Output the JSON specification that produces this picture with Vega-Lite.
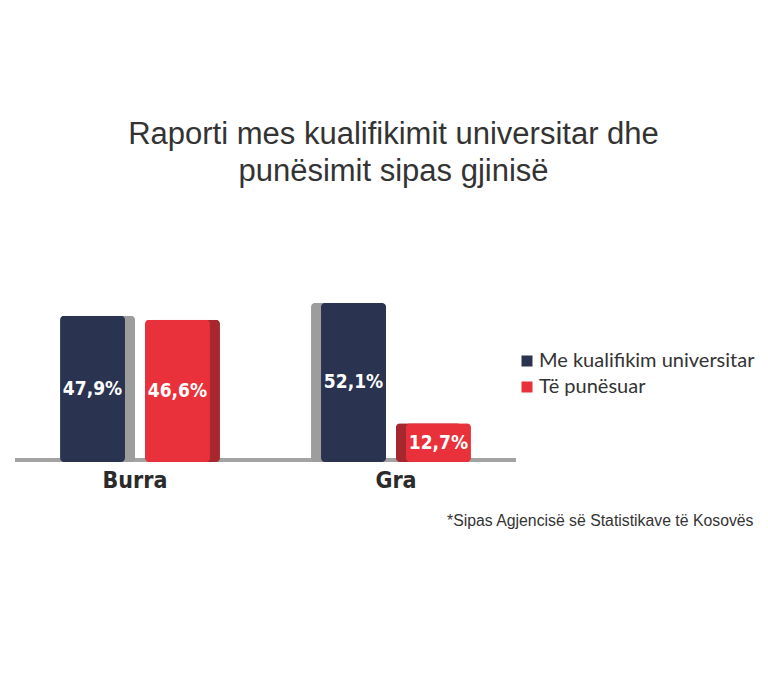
{
  "$schema": "https://vega.github.io/schema/vega-lite/v6.json",
  "autosize": {"type": "none"},
  "padding": {"left": 15, "top": 230, "right": 252, "bottom": 221},
  "width": 501,
  "height": 232,
  "background": "white",
  "config": {"view": {"stroke": null}, "axis": {"grid": false}},
  "title": {
    "text": ["Raporti mes kualifikimit universitar dhe", "punësimit sipas gjinisë"],
    "font": "Liberation Sans",
    "fontSize": 31,
    "fontWeight": "normal",
    "color": "#333333",
    "lineHeight": 37,
    "anchor": "middle",
    "frame": "group",
    "dx": 128,
    "offset": 42
  },
  "data": {
    "values": [
      {"gender": "Burra", "series": "Me kualifikim universitar", "value": 47.9, "label": "47,9%"},
      {"gender": "Burra", "series": "Të punësuar", "value": 46.6, "label": "46,6%"},
      {"gender": "Gra", "series": "Me kualifikim universitar", "value": 52.1, "label": "52,1%"},
      {"gender": "Gra", "series": "Të punësuar", "value": 12.7, "label": "12,7%"}
    ]
  },
  "layer": [
    {
      "mark": {"type": "rule", "color": "#a3a3a3", "strokeWidth": 4, "yOffset": -2},
      "encoding": {"y": {"datum": 0, "type": "quantitative", "scale": {"domain": [0, 76]}, "axis": null}}
    },
    {
      "encoding": {
        "x": {
          "field": "gender",
          "type": "nominal",
          "scale": {"domain": ["Burra", "Gra"], "paddingInner": 0.1, "paddingOuter": 0.0098},
          "axis": {
            "title": "*Sipas Agjencisë së Statistikave të Kosovës",
            "labelAngle": 0,
            "domain": false,
            "ticks": false,
            "labelFont": "'DejaVu Sans Condensed', 'Roboto Condensed', 'Liberation Sans Narrow', Roboto, sans-serif",
            "labelFontWeight": "bold",
            "labelFontSize": 23,
            "labelColor": "#2b2b2b",
            "labelPadding": 7,
            "titleFont": "Liberation Sans",
            "titleFontSize": 15.8,
            "titleFontWeight": "normal",
            "titleColor": "#333333",
            "titleX": 738,
            "titleY": 63,
            "titleAlign": "right",
            "titleBaseline": "alphabetic"
          }
        }
      },
      "layer": [
        {
          "transform": [{"filter": "datum.gender == 'Burra'"}],
          "mark": {"type": "bar", "cornerRadius": 4},
          "encoding": {
            "xOffset": {
              "field": "series",
              "type": "nominal",
              "scale": {"domain": ["Me kualifikim universitar", "Të punësuar"], "paddingInner": 0.235, "paddingOuter": 0.5, "range": [10, 244.9]}
            },
            "y": {"field": "value", "type": "quantitative", "scale": {"domain": [0, 76]}, "axis": null},
            "color": {"condition": {"test": "datum.series == 'Të punësuar'", "value": "#a6272e"}, "value": "#9d9d9d"}
          }
        },
        {
          "transform": [{"filter": "datum.gender == 'Gra'"}],
          "mark": {"type": "bar", "cornerRadius": 4},
          "encoding": {
            "xOffset": {
              "field": "series",
              "type": "nominal",
              "scale": {"domain": ["Me kualifikim universitar", "Të punësuar"], "paddingInner": 0.235, "paddingOuter": 0.5, "range": [-10, 224.9]}
            },
            "y": {"field": "value", "type": "quantitative", "scale": {"domain": [0, 76]}, "axis": null},
            "color": {"condition": {"test": "datum.series == 'Të punësuar'", "value": "#a6272e"}, "value": "#9d9d9d"}
          }
        },
        {
          "mark": {"type": "bar", "cornerRadius": 4},
          "encoding": {
            "xOffset": {
              "field": "series",
              "type": "nominal",
              "scale": {"domain": ["Me kualifikim universitar", "Të punësuar"], "paddingInner": 0.235, "paddingOuter": 0.5}
            },
            "y": {"field": "value", "type": "quantitative", "scale": {"domain": [0, 76]}, "axis": null},
            "color": {
              "field": "series",
              "type": "nominal",
              "scale": {"domain": ["Me kualifikim universitar", "Të punësuar"], "range": ["#2a3350", "#e8313a"]},
              "legend": {
                "title": null,
                "orient": "none",
                "legendX": 502,
                "legendY": 121,
                "padding": 0,
                "symbolType": "square",
                "symbolSize": 121,
                "symbolStrokeWidth": 0,
                "labelFont": "Lato",
                "labelFontSize": 20,
                "labelColor": "#333333",
                "labelOffset": 2,
                "rowPadding": 6,
                "labelLimit": 300
              }
            }
          }
        },
        {
          "mark": {"type": "text", "color": "white", "font": "'DejaVu Sans Condensed', 'Roboto Condensed', 'Liberation Sans Narrow', Roboto, sans-serif", "fontWeight": "bold", "fontSize": 19, "baseline": "middle"},
          "encoding": {
            "xOffset": {
              "field": "series",
              "type": "nominal",
              "scale": {"type": "band", "domain": ["Me kualifikim universitar", "Të punësuar"], "paddingInner": 0.235, "paddingOuter": 0.5}
            },
            "y": {"field": "value", "type": "quantitative", "scale": {"domain": [0, 152]}, "axis": null},
            "text": {"field": "label"}
          }
        }
      ],
      "resolve": {"scale": {"y": "independent", "xOffset": "independent"}}
    }
  ],
  "resolve": {"scale": {"y": "independent"}}
}
